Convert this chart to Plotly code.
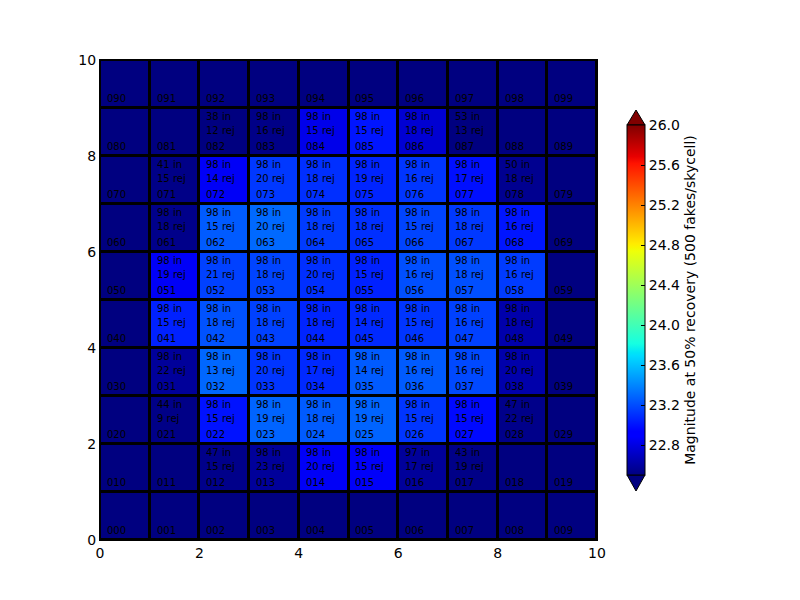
import numpy as np
import plotly.graph_objects as go

# ---- data (row index = y cell 0..9, column index = x cell 0..9) ----
N = None
mag_rows = [
    [22.5, 22.5, 22.5, 22.5, 22.5, 22.5, 22.5, 22.5, 22.5, 22.5],      # row 0
    [22.5, 22.5, 22.53, 22.58, 22.86, 22.87, 22.58, 22.52, 22.5, 22.5],  # row 1
    [22.5, 22.52, 23.0, 23.28, 23.25, 23.28, 23.12, 22.97, 22.53, 22.5],  # row 2
    [22.5, 22.58, 23.29, 23.12, 23.08, 23.25, 23.25, 23.19, 22.63, 22.5],  # row 3
    [22.5, 23.05, 23.22, 23.16, 23.06, 23.08, 23.12, 23.16, 22.63, 22.5],  # row 4
    [22.5, 22.86, 23.16, 23.17, 23.10, 23.05, 23.21, 23.21, 23.14, 22.5],  # row 5
    [22.5, 22.53, 23.25, 23.30, 23.14, 23.10, 23.17, 23.13, 23.01, 22.5],  # row 6
    [22.5, 22.52, 22.86, 23.13, 23.10, 23.06, 23.12, 22.99, 22.55, 22.5],  # row 7
    [22.5, 22.5, 22.5, 22.52, 22.82, 23.01, 22.75, 22.5, 22.5, 22.5],     # row 8
    [22.5, 22.5, 22.5, 22.5, 22.5, 22.5, 22.5, 22.5, 22.5, 22.5],        # row 9
]
in_rows = [
    [N, N, N, N, N, N, N, N, N, N],
    [N, N, 47, 98, 98, 98, 97, 43, N, N],
    [N, 44, 98, 98, 98, 98, 98, 98, 47, N],
    [N, 98, 98, 98, 98, 98, 98, 98, 98, N],
    [N, 98, 98, 98, 98, 98, 98, 98, 98, N],
    [N, 98, 98, 98, 98, 98, 98, 98, 98, N],
    [N, 98, 98, 98, 98, 98, 98, 98, 98, N],
    [N, 41, 98, 98, 98, 98, 98, 98, 50, N],
    [N, N, 38, 98, 98, 98, 98, 53, N, N],
    [N, N, N, N, N, N, N, N, N, N],
]
rej_rows = [
    [N, N, N, N, N, N, N, N, N, N],
    [N, N, 15, 23, 20, 15, 17, 19, N, N],
    [N, 9, 15, 19, 18, 19, 15, 15, 22, N],
    [N, 22, 13, 20, 17, 14, 16, 16, 20, N],
    [N, 15, 18, 18, 18, 14, 15, 16, 18, N],
    [N, 19, 21, 18, 20, 15, 16, 18, 16, N],
    [N, 18, 15, 20, 18, 18, 15, 18, 16, N],
    [N, 15, 14, 20, 18, 19, 16, 17, 18, N],
    [N, N, 12, 16, 15, 15, 18, 13, N, N],
    [N, N, N, N, N, N, N, N, N, N],
]
zmin, zmax = 22.5, 26.0
cbar_ticks = [22.8, 23.2, 23.6, 24.0, 24.4, 24.8, 25.2, 25.6, 26.0]
axis_ticks = [0, 2, 4, 6, 8, 10]
cbar_title = "Magnitude at 50% recovery (500 fakes/skycell)"

# ---- matplotlib 'jet' colormap ----
red = [(0, 0), (0.35, 0), (0.66, 1), (0.89, 1), (1, 0.5)]
green = [(0, 0), (0.125, 0), (0.375, 1), (0.64, 1), (0.91, 0), (1, 0)]
blue = [(0, 0.5), (0.11, 1), (0.34, 1), (0.65, 0), (1, 0)]
stops = sorted(set([p for p, _ in red + green + blue]))
def interp(seg, t):
    xs = [p for p, _ in seg]; ys = [v for _, v in seg]
    return float(np.interp(t, xs, ys))
jet = [[t, "rgb(%d,%d,%d)" % (round(255 * interp(red, t)), round(255 * interp(green, t)),
                               round(255 * interp(blue, t)))] for t in stops]

nx, ny = 10, 10
xc = [i + 0.5 for i in range(nx)]
yc = [j + 0.5 for j in range(ny)]

fig = go.Figure()
fig.add_trace(go.Heatmap(
    z=mag_rows, x=xc, y=yc, colorscale=jet, zmin=zmin, zmax=zmax,
    xgap=3, ygap=3, hoverinfo="skip",
    colorbar=dict(
        x=1.0604, xanchor="left", xpad=0, y=0.5, yanchor="middle", ypad=0,
        len=350 / 480, lenmode="fraction", thickness=18, thicknessmode="pixels",
        outlinewidth=1, outlinecolor="black",
        tickvals=cbar_ticks, ticktext=["%.1f" % v for v in cbar_ticks],
        ticks="inside", ticklen=4, tickcolor="black",
        tickfont=dict(family="DejaVu Sans", size=14, color="black"),
        title=dict(text=cbar_title, side="right",
                   font=dict(family="DejaVu Sans", size=14, color="black")),
    ),
))

annotations = []
tf = dict(family="DejaVu Sans", size=10, color="black")
for j in range(ny):
    for i in range(nx):
        annotations.append(dict(x=i + 0.1, y=j + 0.19, xref="x", yref="y",
                                text="0%d%d" % (j, i), showarrow=False,
                                xanchor="left", yanchor="middle", font=tf))
        if in_rows[j][i] is not None:
            annotations.append(dict(x=i + 0.1, y=j + 0.83, xref="x", yref="y",
                                    text="%d in" % in_rows[j][i], showarrow=False,
                                    xanchor="left", yanchor="middle", font=tf))
            annotations.append(dict(x=i + 0.1, y=j + 0.54, xref="x", yref="y",
                                    text="%d rej" % rej_rows[j][i], showarrow=False,
                                    xanchor="left", yanchor="middle", font=tf))

# colorbar extension triangles (paper coords)
cx0, cx1 = 1.0604, 1.0604 + 18 / 497
cm = (cx0 + cx1) / 2
top_base, top_tip = (540 - 125) / 480, (540 - 110) / 480
bot_base, bot_tip = (540 - 475) / 480, (540 - 491) / 480
shapes = [
    dict(type="path", xref="paper", yref="paper",
         path="M %f %f L %f %f L %f %f Z" % (cx0, top_base, cm, top_tip, cx1, top_base),
         fillcolor="rgb(128,0,0)", line=dict(color="black", width=1)),
    dict(type="path", xref="paper", yref="paper",
         path="M %f %f L %f %f L %f %f Z" % (cx0, bot_base, cm, bot_tip, cx1, bot_base),
         fillcolor="rgb(0,0,128)", line=dict(color="black", width=1)),
]

axis_common = dict(range=[0, 10], tickvals=axis_ticks, ticks="inside", ticklen=4,
                   tickcolor="black", showline=True, linecolor="black", linewidth=1,
                   mirror="ticks", showgrid=False, zeroline=False,
                   tickfont=dict(family="DejaVu Sans", size=14, color="black"))
# the browser page adds an 8px body margin, so the figure margins compensate for it
fig.update_layout(
    width=800, height=600,
    margin=dict(l=92, r=211, t=52, b=68),
    paper_bgcolor="white", plot_bgcolor="black",
    xaxis=axis_common, yaxis=axis_common,
    annotations=annotations, shapes=shapes,
    font=dict(family="DejaVu Sans", color="black"),
)
fig.write_html("out.html")
